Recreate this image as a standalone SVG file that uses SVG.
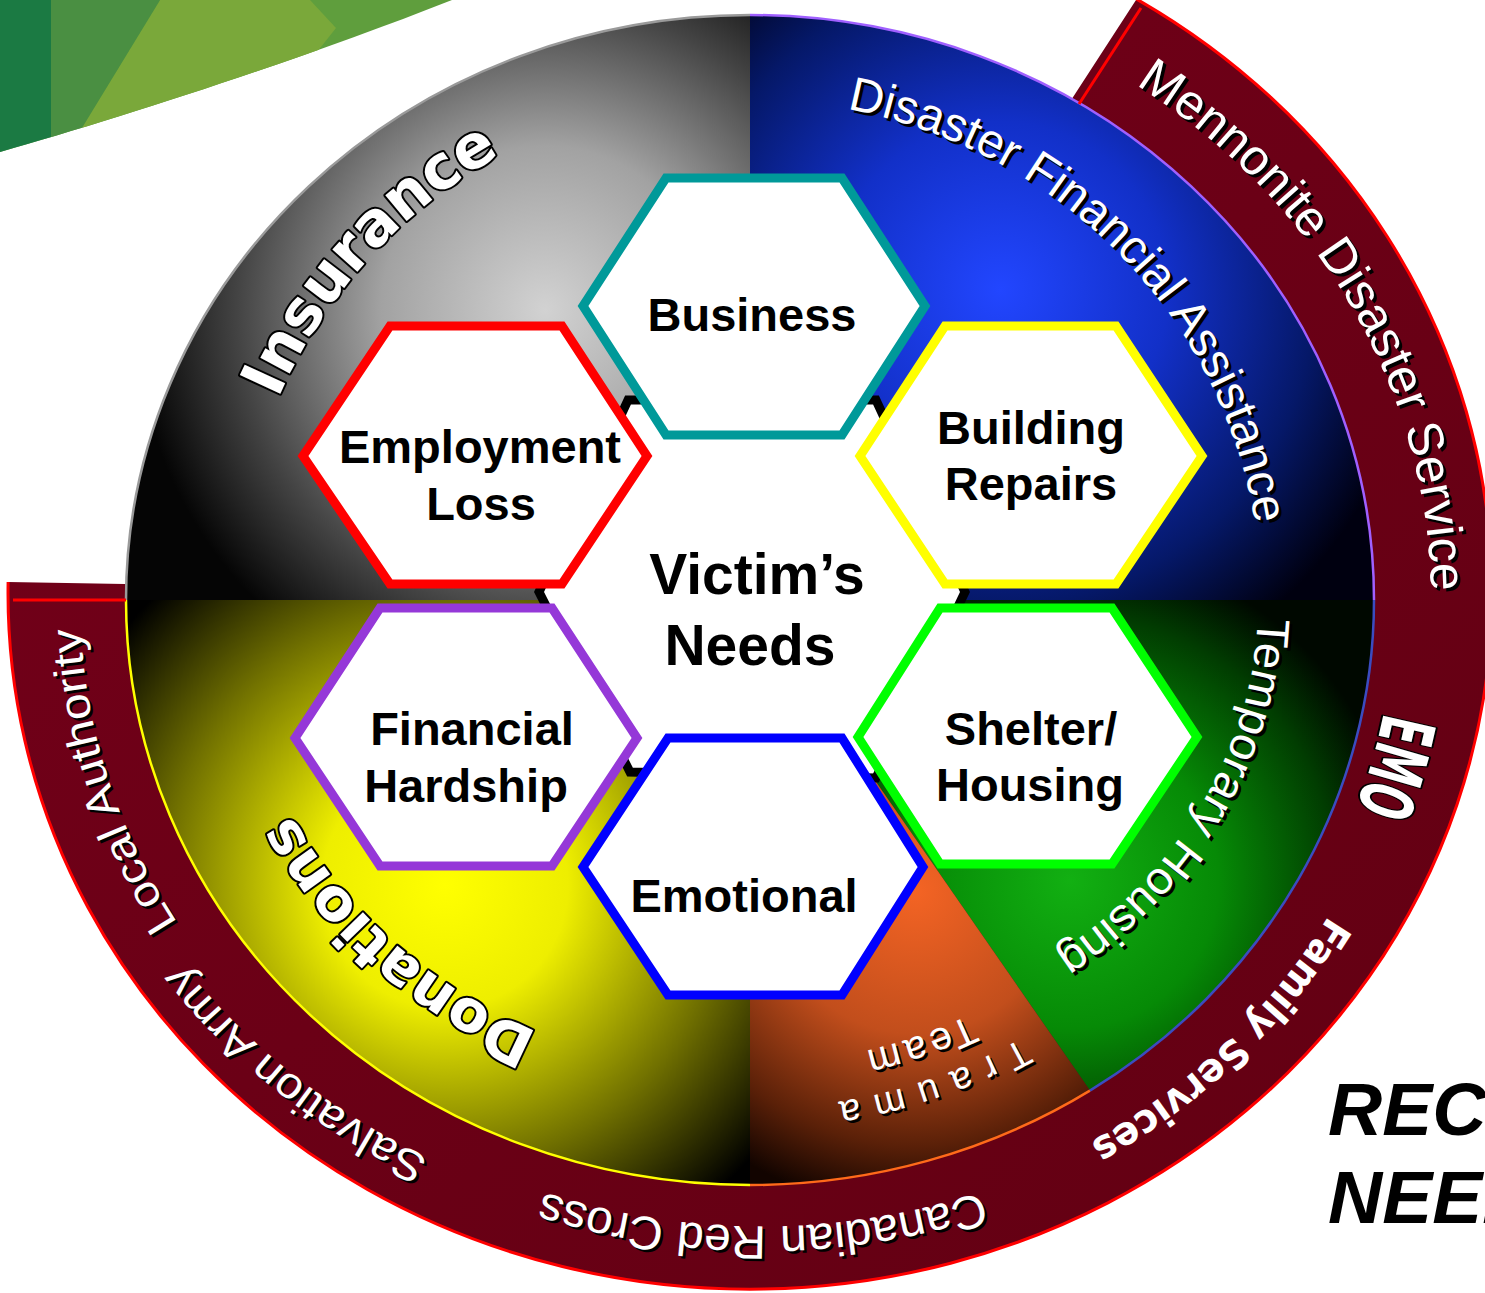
<svg xmlns="http://www.w3.org/2000/svg" xmlns:xlink="http://www.w3.org/1999/xlink" width="1485" height="1293" viewBox="0 0 1485 1293">
<defs>
<style>
.hex{fill:#fff;stroke-width:9;stroke-linejoin:miter}
.hl{font-family:"Liberation Sans",Arial,sans-serif;font-weight:bold;font-size:47px;text-anchor:middle;fill:#000}
.hl.big{font-size:57px}
.reg{font-family:"Liberation Sans",Arial,sans-serif}
.heavy{font-family:"DejaVu Sans","Liberation Sans",sans-serif;font-weight:bold;fill:#fff;stroke:#000;stroke-width:4;paint-order:stroke;stroke-linejoin:round}
.edge{fill:none;stroke-width:2.5}
</style>
<clipPath id="swooshClip"><path d="M0,0 H452 C300,60 120,118 0,152 Z"/></clipPath>
<radialGradient id="gGray" gradientUnits="userSpaceOnUse" cx="545" cy="310" r="410">
<stop offset="0" stop-color="#d2d2d2"/><stop offset="0.4" stop-color="#a2a2a2"/><stop offset="0.75" stop-color="#444444"/><stop offset="1" stop-color="#050505"/>
</radialGradient>
<radialGradient id="gBlue" gradientUnits="userSpaceOnUse" cx="1000" cy="290" r="420">
<stop offset="0" stop-color="#2246ff"/><stop offset="0.4" stop-color="#1230c8"/><stop offset="0.75" stop-color="#051868"/><stop offset="1" stop-color="#000010"/>
</radialGradient>
<radialGradient id="gGreen" gradientUnits="userSpaceOnUse" cx="1070" cy="880" r="330">
<stop offset="0" stop-color="#12b012"/><stop offset="0.45" stop-color="#068a06"/><stop offset="0.8" stop-color="#013d01"/><stop offset="1" stop-color="#000800"/>
</radialGradient>
<radialGradient id="gOrange" gradientUnits="userSpaceOnUse" cx="915" cy="890" r="320">
<stop offset="0" stop-color="#f46424"/><stop offset="0.45" stop-color="#c24e1c"/><stop offset="0.8" stop-color="#5a2008"/><stop offset="1" stop-color="#120400"/>
</radialGradient>
<radialGradient id="gYellow" gradientUnits="userSpaceOnUse" cx="445" cy="885" r="410">
<stop offset="0" stop-color="#ffff00"/><stop offset="0.3" stop-color="#eeee00"/><stop offset="0.68" stop-color="#707000"/><stop offset="1" stop-color="#000000"/>
</radialGradient>
<linearGradient id="gMaroon" x1="0" y1="0" x2="1" y2="1">
<stop offset="0" stop-color="#74001a"/><stop offset="1" stop-color="#620012"/>
</linearGradient>

<path id="pIns" d="M278.2,398.7 A513.7,508.9 0 0 1 574.3,121.8"/>
<path id="pDfa" d="M847,109.1 A511,500 0 0 1 1260.7,582.6"/>
<path id="pMds" d="M1135.7,84.9 A681,625 0 0 1 1428.4,654.5"/>
<path id="pTmp" d="M1257.9,617.8 A508.3,443.7 0 0 1 1019.4,976.3"/>
<path id="pTra" d="M1022.2,1037.9 A534.7,508.8 0 0 1 787.3,1107.6"/>
<path id="pTea" d="M969.3,1014.9 A491.4,463.6 0 0 1 792.8,1061.8"/>
<path id="pDon" d="M538.3,1032.1 A514.4,474.1 0 0 1 266.6,762.1"/>
<path id="pLoc" d="M177.6,923 A670,621.8 0 0 1 80.9,567.5"/>
<path id="pSal" d="M429,1158.1 A695.2,629.2 0 0 1 147.9,914.6"/>
<path id="pCrc" d="M981.2,1191.9 A670,626.4 0 0 1 489.5,1172.2"/>
<path id="pFam" d="M1328.7,915.6 A668.8,629.7 0 0 1 1032.6,1170.7"/>
<path id="pEmo" d="M1383.8,712.3 A645,605 0 0 1 1339.2,846.1"/>

<text id="tDfa" class="reg" font-size="48"><textPath href="#pDfa" textLength="620" lengthAdjust="spacingAndGlyphs">Disaster Financial Assistance</textPath></text>
<text id="tMds" class="reg" font-size="50"><textPath href="#pMds" textLength="611" lengthAdjust="spacingAndGlyphs">Mennonite Disaster Service</textPath></text>
<text id="tTmp" class="reg" font-size="46"><textPath href="#pTmp" textLength="408" lengthAdjust="spacingAndGlyphs">Temporary Housing</textPath></text>
<text id="tTra" class="reg" font-size="38"><textPath href="#pTra" textLength="196" lengthAdjust="spacing">Trauma</textPath></text>
<text id="tTea" class="reg" font-size="40"><textPath href="#pTea" textLength="110" lengthAdjust="spacing">Team</textPath></text>
<text id="tLoc" class="reg" font-size="43"><textPath href="#pLoc" textLength="314" lengthAdjust="spacingAndGlyphs">Local Authority</textPath></text>
<text id="tSal" class="reg" font-size="44"><textPath href="#pSal" textLength="317" lengthAdjust="spacingAndGlyphs">Salvation Army</textPath></text>
<text id="tCrc" class="reg" font-size="47"><textPath href="#pCrc" textLength="445" lengthAdjust="spacingAndGlyphs">Canadian Red Cross</textPath></text>
</defs>

<g id="swoosh" clip-path="url(#swooshClip)">
<rect x="0" y="0" width="460" height="160" fill="#5f9e3d"/>
<polygon points="160,0 310,0 336,28 200,200 80,131" fill="#7aa83a"/>
<polygon points="51,0 160,0 80,131 51,140" fill="#4a8f42"/>
<rect x="0" y="0" width="51" height="160" fill="#1b7a43"/>
</g>

<g id="ring">
<path d="M750,595 L8.1,582 A742,696 0 1 0 1136.6,-0.9 Z" fill="url(#gMaroon)"/>
</g>

<g id="pie">
<path d="M750,600 L126,600 A624,585 0 0 1 750,15 Z" fill="url(#gGray)"/>
<path d="M750,600 L750,15 A624,585 0 0 1 1374,600 Z" fill="url(#gBlue)"/>
<path d="M750,600 L1374,600 A624,585 0 0 1 1089.9,1090.6 Z" fill="url(#gGreen)"/>
<path d="M750,600 L1089.9,1090.6 A624,585 0 0 1 750,1185 Z" fill="url(#gOrange)"/>
<path d="M750,600 L750,1185 A624,585 0 0 1 126,600 Z" fill="url(#gYellow)"/>
<path class="edge" d="M126,600 A624,585 0 0 1 750,15" stroke="#9a9a9a" stroke-width="2"/>
<path class="edge" d="M750,15 A624,585 0 0 1 1374,600" stroke="#a060ff"/>
<path class="edge" d="M1374,600 A624,585 0 0 1 1089.9,1090.6" stroke="#3b4cc0"/>
<path class="edge" d="M1089.9,1090.6 A624,585 0 0 1 750,1185" stroke="#ff6a1a"/>
<path class="edge" d="M750,1185 A624,585 0 0 1 126,600" stroke="#ffff00"/>
</g>

<g id="ring-edges" fill="none" stroke="#ff0000" stroke-width="3">
<path d="M8.1,582 A742,696 0 1 0 1136.6,-0.9"/>
<path d="M13,600 L126,600"/>
<path d="M1141,8 L1079,104"/>
</g>

<g id="slice-labels">
<text class="heavy" font-size="61"><textPath href="#pIns" textLength="336" lengthAdjust="spacingAndGlyphs">Insurance</textPath></text>
<use href="#tDfa" fill="#000" transform="translate(3,3)"/>
<use href="#tDfa" fill="#fff"/>
<use href="#tTmp" fill="#000" transform="translate(3,3)"/>
<use href="#tTmp" fill="#fff"/>
<use href="#tTra" fill="#000" transform="translate(2.5,2.5)"/>
<use href="#tTra" fill="#fff"/>
<use href="#tTea" fill="#000" transform="translate(2.5,2.5)"/>
<use href="#tTea" fill="#fff"/>
<text class="heavy" font-size="58"><textPath href="#pDon" textLength="336" lengthAdjust="spacingAndGlyphs">Donations</textPath></text>
</g>

<g id="ring-labels">
<use href="#tMds" fill="#000" transform="translate(3,3)"/>
<use href="#tMds" fill="#fff"/>
<use href="#tLoc" fill="#000" transform="translate(2.5,2.5)"/>
<use href="#tLoc" fill="#fff"/>
<use href="#tSal" fill="#000" transform="translate(2.5,2.5)"/>
<use href="#tSal" fill="#fff"/>
<use href="#tCrc" fill="#000" transform="translate(2.5,2.5)"/>
<use href="#tCrc" fill="#fff"/>
<text font-family="DejaVu Sans, sans-serif" font-weight="bold" font-size="40" fill="#fff"><textPath href="#pFam" textLength="333" lengthAdjust="spacingAndGlyphs">Family Services</textPath></text>
<text class="heavy" font-size="74"><textPath href="#pEmo" textLength="100" lengthAdjust="spacingAndGlyphs">EMO</textPath></text>
</g>

<g id="node-center">
<polygon points="628,400 876,400 965,592 876,778 630,772 539,592" fill="#fff" stroke="#000" stroke-width="9"/>
<text class="hl big" x="757" y="594">Victim’s</text>
<text class="hl big" x="750" y="665">Needs</text>
</g>

<g id="node-business">
<polygon class="hex" points="666,178 842,178 925,306 842,435 666,435 583,306" stroke="#009999"/>
<text class="hl" x="752" y="331">Business</text>
</g>
<g id="node-emotional">
<polygon class="hex" points="668,738 842,738 923,867 842,995 668,995 583,867" stroke="#0000ff"/>
<text class="hl" x="744" y="912">Emotional</text>
</g>
<g id="node-employment">
<polygon class="hex" points="390,326 562,326 647,456 562,584 390,584 303,456" stroke="#ff0000"/>
<text class="hl" x="480" y="463">Employment</text>
<text class="hl" x="481" y="520">Loss</text>
</g>
<g id="node-building">
<polygon class="hex" points="945,326 1116,326 1202,456 1116,584 945,584 860,456" stroke="#ffff00"/>
<text class="hl" x="1031" y="444">Building</text>
<text class="hl" x="1031" y="500">Repairs</text>
</g>
<g id="node-financial">
<polygon class="hex" points="380,608 552,608 637,738 552,866 380,866 295,738" stroke="#9538d8"/>
<text class="hl" x="472" y="745">Financial</text>
<text class="hl" x="466" y="802">Hardship</text>
</g>
<g id="node-shelter">
<polygon class="hex" points="940,608 1112,608 1197,737 1112,864 940,864 858,737" stroke="#00ff00"/>
<text class="hl" x="1031" y="745">Shelter/</text>
<text class="hl" x="1030" y="801">Housing</text>
</g>

<g id="title" font-family="Liberation Sans, Arial, sans-serif" font-weight="bold" font-style="italic" font-size="75" fill="#000">
<text x="1328" y="1135">RECOVERY</text>
<text x="1328" y="1223">NEEDS</text>
</g>
</svg>
